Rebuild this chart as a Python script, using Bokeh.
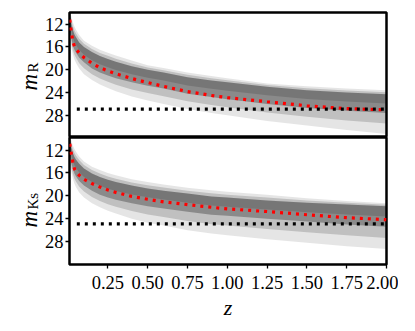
import math
from bokeh.plotting import figure
from bokeh.layouts import column, row
from bokeh.models import Range1d, FixedTicker, PrintfTickFormatter
from bokeh.core.properties import value
from bokeh.embed import file_html
from bokeh.resources import INLINE

FONT = "Liberation Serif"

z_grid = [0.011, 0.015, 0.02, 0.03, 0.04, 0.05, 0.07, 0.1, 0.15, 0.2, 0.25,
          0.3, 0.4, 0.5, 0.6, 0.75, 0.9, 1.0, 1.25, 1.5, 1.75, 2.0]

# ---- R band ----
r_median = [11.2, 12.3, 13.3, 15.0, 15.9, 16.4, 17.05, 17.85, 18.87, 19.64, 20.2,
            20.7, 21.55, 22.25, 22.93, 23.83, 24.52, 24.9, 25.62, 26.33, 26.83, 27.05]
r_env_top = [9.3, 9.9, 10.6, 11.6, 12.4, 13.0, 13.9, 14.9, 15.8, 16.5, 17.0,
             17.5, 18.4, 19.2, 19.7, 20.5, 21.1, 21.5, 22.4, 22.9, 23.3, 23.6]
r_core_top = [10.0, 10.9, 11.8, 13.0, 13.8, 14.3, 15.2, 16.0, 16.9, 17.6, 18.1,
              18.6, 19.4, 20.0, 20.5, 21.3, 21.9, 22.2, 23.0, 23.6, 24.0, 24.3]
r_core_bot = [12.2, 13.2, 14.3, 15.8, 16.5, 17.0, 17.9, 18.7, 19.8, 20.5, 21.0,
              21.5, 22.2, 22.8, 23.3, 24.2, 24.8, 25.2, 26.0, 26.7, 27.2, 27.6]
r_env_bot = [13.8, 15.0, 16.0, 17.3, 18.2, 18.8, 19.8, 20.8, 21.8, 22.6, 23.2,
             23.8, 24.7, 25.4, 26.0, 26.9, 27.6, 28.0, 29.0, 29.8, 30.6, 31.3]
r_limit = 26.9

# ---- Ks band ----
ks_median = [10.9, 11.8, 12.6, 14.1, 15.3, 15.75, 16.4, 17.1, 17.85, 18.45, 18.98,
             19.4, 20.1, 20.6, 21.05, 21.53, 22.0, 22.28, 22.74, 23.3, 23.82, 24.17]
ks_env_top = [9.2, 9.8, 10.3, 11.2, 11.8, 12.3, 13.1, 14.0, 14.9, 15.5, 16.0,
              16.4, 17.1, 17.6, 18.0, 18.6, 19.0, 19.3, 19.8, 20.4, 20.9, 21.3]
ks_core_top = [9.8, 10.6, 11.5, 12.5, 13.2, 13.7, 14.4, 15.2, 16.1, 16.7, 17.2,
               17.6, 18.2, 18.7, 19.1, 19.6, 20.1, 20.3, 20.8, 21.2, 21.5, 21.8]
ks_core_bot = [12.2, 13.2, 14.2, 15.3, 16.1, 16.6, 17.4, 18.2, 19.1, 19.8, 20.3,
               20.7, 21.3, 21.8, 22.2, 22.8, 23.3, 23.5, 24.0, 24.5, 25.0, 25.4]
ks_env_bot = [13.6, 14.7, 15.8, 17.0, 17.9, 18.5, 19.4, 20.3, 21.3, 22.0, 22.6,
              23.1, 24.0, 24.7, 25.2, 26.0, 26.6, 26.9, 27.6, 28.2, 28.8, 29.3]
ks_limit = 24.9

limit_z = [0.055, 2.0]
y_ticks = [12, 16, 20, 24, 28]
x_ticks = [0.25, 0.5, 0.75, 1.0, 1.25, 1.5, 1.75, 2.0]

LBL_W = 40


def style_panel(p):
    p.xgrid.visible = False
    p.ygrid.visible = False
    p.outline_line_color = "black"
    p.outline_line_width = 2.5
    p.outline_line_alpha = 1.0
    p.background_fill_color = "white"
    p.border_fill_color = "white"
    ax = p.yaxis[0]
    ax.ticker = FixedTicker(ticks=y_ticks)
    ax.axis_line_color = None
    ax.major_tick_in = 0
    ax.major_tick_out = 4
    ax.major_tick_line_width = 1.3
    ax.minor_tick_line_color = None
    ax.major_label_text_font = FONT
    ax.major_label_text_font_size = "18.5px"
    ax.major_label_text_color = "black"
    ax.major_label_standoff = 2


def draw_band(p, env_top, core_top, core_bot, env_bot, median, limit):
    mid_top = [(a + b) / 2 for a, b in zip(env_top, core_top)]
    mid_bot = [(a + b) / 2 for a, b in zip(core_bot, env_bot)]
    core_mid = [(a + b) / 2 for a, b in zip(core_top, core_bot)]
    p.varea(x=z_grid, y1=env_top, y2=env_bot, fill_color="black", fill_alpha=0.10)
    p.varea(x=z_grid, y1=mid_top, y2=mid_bot, fill_color="black", fill_alpha=0.16)
    p.varea(x=z_grid, y1=core_top, y2=core_bot, fill_color="black", fill_alpha=0.28)
    p.varea(x=z_grid, y1=core_top, y2=core_mid, fill_color="black", fill_alpha=0.14)
    p.line(x=z_grid, y=median, line_color="red", line_width=3.2,
           line_dash="3 5", line_cap="butt")
    p.line(x=limit_z, y=[limit, limit], line_color="black", line_width=3.2,
           line_dash="3 5", line_cap="butt")


def label_fig(frame_h, top_border, y_m, sub, y_sub):
    f = figure(frame_width=LBL_W, frame_height=frame_h,
               x_range=Range1d(0, LBL_W), y_range=Range1d(0, frame_h),
               x_axis_location=None, y_axis_location=None,
               output_backend="svg", toolbar_location=None,
               min_border_left=0, min_border_right=0,
               min_border_top=top_border, min_border_bottom=0)
    f.outline_line_color = None
    f.xgrid.visible = False
    f.ygrid.visible = False
    f.text(x=[28.5], y=[y_m], text=["m"], angle=math.pi / 2,
           text_font=value(FONT), text_font_style="italic",
           text_font_size="23px", text_color="black",
           text_align="left", text_baseline="alphabetic")
    f.text(x=[32.5], y=[y_sub], text=[sub], angle=math.pi / 2,
           text_font=value(FONT), text_font_size="15px", text_color="black",
           text_align="left", text_baseline="alphabetic")
    return f


x_range = Range1d(0.009, 2.0)

p1 = figure(frame_width=317, frame_height=125, x_range=x_range,
            y_range=Range1d(31.9, 9.95), x_axis_location=None,
            output_backend="svg", toolbar_location=None,
            min_border_left=69 - LBL_W, min_border_right=12,
            min_border_top=12, min_border_bottom=0)
style_panel(p1)
draw_band(p1, r_env_top, r_core_top, r_core_bot, r_env_bot, r_median, r_limit)
l1 = label_fig(125, 12, 47, "R", 65)

p2 = figure(frame_width=317, frame_height=127, x_range=x_range,
            y_range=Range1d(32.0, 9.8),
            output_backend="svg", toolbar_location=None,
            min_border_left=69 - LBL_W, min_border_right=12,
            min_border_top=0, min_border_bottom=62)
style_panel(p2)
draw_band(p2, ks_env_top, ks_core_top, ks_core_bot, ks_env_bot, ks_median, ks_limit)
l2 = label_fig(127, 0, 37, "Ks", 55)

xa = p2.xaxis[0]
xa.ticker = FixedTicker(ticks=x_ticks)
xa.formatter = PrintfTickFormatter(format="%.2f")
xa.axis_line_color = None
xa.major_tick_in = 0
xa.major_tick_out = 4
xa.major_tick_line_width = 1.3
xa.minor_tick_line_color = None
xa.major_label_text_font = FONT
xa.major_label_text_font_size = "18.5px"
xa.major_label_text_color = "black"
xa.major_label_standoff = 7
xa.axis_label = "z"
xa.axis_label_text_font = FONT
xa.axis_label_text_font_style = "italic"
xa.axis_label_text_font_size = "22px"
xa.axis_label_text_color = "black"
xa.axis_label_standoff = 3

layout = column(row(l1, p1, spacing=0), row(l2, p2, spacing=0), spacing=0)
open("out.html", "w").write(file_html(layout, INLINE))
